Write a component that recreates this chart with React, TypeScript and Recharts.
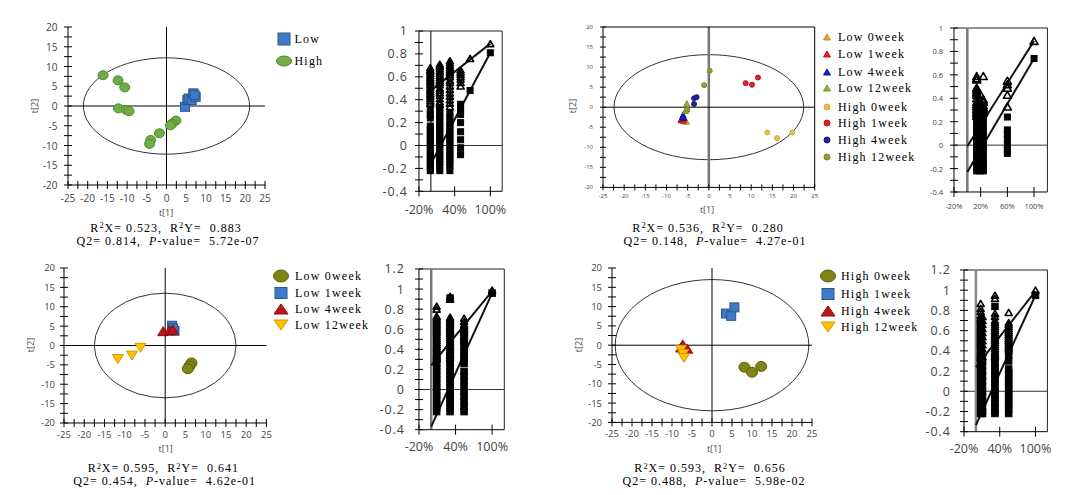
import React from 'react';
import { ScatterChart, Scatter, XAxis, YAxis, ReferenceLine, ReferenceArea } from 'recharts';

type Pt = { x: number; y: number };
type Kind = 'circle' | 'square' | 'up' | 'down';
type Geo = { l: number; r: number; t: number; b: number };

const serif = '"Liberation Serif", "Times New Roman", serif';
const sans = '"Open Sans", "DejaVu Sans", sans-serif';

// ---------- score plots ----------
const scoreXTicks = [-25, -22.5, -20, -17.5, -15, -12.5, -10, -7.5, -5, -2.5, 0, 2.5, 5, 7.5, 10, 12.5, 15, 17.5, 20, 22.5, 25];
const scoreYTicks = [-20, -17.5, -15, -12.5, -10, -7.5, -5, -2.5, 0, 2.5, 5, 7.5, 10, 12.5, 15, 17.5, 20];

// top left: Low vs High
const p1Low = [
  { x: 4.7, y: -0.2 }, { x: 5.3, y: 1.5 }, { x: 5.6, y: 1.9 }, { x: 6.4, y: 1.5 },
  { x: 6.8, y: 3.2 }, { x: 7.4, y: 2.3 }, { x: 7.1, y: 2.8 },
];
const p1High = [
  { x: -16.1, y: 7.8 }, { x: -12.3, y: 6.5 }, { x: -10.6, y: 4.7 }, { x: -12.2, y: -0.6 },
  { x: -10.2, y: -1.0 }, { x: -9.5, y: -1.3 }, { x: 2.4, y: -3.7 }, { x: 1.4, y: -4.5 },
  { x: 1.0, y: -4.9 }, { x: -1.8, y: -6.9 }, { x: -4.0, y: -8.6 }, { x: -4.3, y: -9.6 },
];
const p1Ellipse = [21.1, 12.2];

// top right: all groups
const p2Low0 = [{ x: -5.7, y: -3.4 }, { x: -5.3, y: -3.5 }, { x: -6.0, y: -3.3 }];
const p2Low1 = [{ x: -6.6, y: -3.1 }, { x: -6.3, y: -3.0 }, { x: -6.0, y: -3.2 }];
const p2Low4 = [{ x: -6.1, y: -1.9 }, { x: -5.9, y: -2.6 }, { x: -6.2, y: -2.4 }];
const p2Low12 = [{ x: -5.2, y: 0.9 }, { x: -5.3, y: -0.4 }, { x: -5.5, y: -0.8 }];
const p2High0 = [{ x: 13.8, y: -6.3 }, { x: 16.1, y: -7.7 }, { x: 19.7, y: -6.3 }];
const p2High1 = [{ x: 8.7, y: 6.0 }, { x: 10.2, y: 5.6 }, { x: 11.6, y: 7.4 }];
const p2High4 = [{ x: -3.5, y: 2.2 }, { x: -2.9, y: 2.5 }, { x: -3.5, y: 0.8 }];
const p2High12 = [{ x: 0.2, y: 9.1 }, { x: -1.1, y: 5.5 }, { x: -5.1, y: -0.6 }];
const p2Ellipse = [22.4, 13.1];

// bottom left: Low over time
const p3Low0 = [{ x: 6.5, y: -4.5 }, { x: 6.0, y: -5.3 }, { x: 5.6, y: -6.0 }];
const p3Low1 = [{ x: 1.7, y: 5.1 }, { x: 2.3, y: 3.8 }, { x: 1.9, y: 4.4 }];
const p3Low4 = [{ x: -0.5, y: 3.7 }, { x: 1.1, y: 3.9 }, { x: 1.9, y: 4.1 }];
const p3Low12 = [{ x: -11.7, y: -3.5 }, { x: -8.2, y: -2.6 }, { x: -6.1, y: -0.6 }];
const p3Ellipse = [17.5, 13.5];

// bottom right: High over time
const p4High0 = [{ x: 8.1, y: -5.7 }, { x: 10.0, y: -7.0 }, { x: 12.3, y: -5.5 }];
const p4High1 = [{ x: 3.5, y: 8.2 }, { x: 4.8, y: 7.6 }, { x: 5.6, y: 9.8 }];
const p4High4 = [{ x: -7.3, y: 0.2 }, { x: -6.2, y: -0.9 }, { x: -7.7, y: -0.6 }];
const p4High12 = [{ x: -7.8, y: -1.2 }, { x: -7.2, y: -2.3 }, { x: -7.0, y: -3.3 }];
const p4Ellipse = [24.2, 17.0];

const statR2X = ['0.523', '0.536', '0.595', '0.593'];
const statR2Y = ['0.883', '0.280', '0.641', '0.656'];
const statQ2 = ['0.814', '0.148', '0.454', '0.488'];
const statP = ['5.72e-07', '4.27e-01', '4.62e-01', '5.98e-02'];

// ---------- permutation plots ----------
const permY14 = [-0.4, -0.3, -0.2, -0.1, 0, 0.1, 0.2, 0.3, 0.4, 0.5, 0.6, 0.7, 0.8, 0.9, 1];
const permY16 = [-0.4, -0.3, -0.2, -0.1, 0, 0.1, 0.2, 0.3, 0.4, 0.5, 0.6, 0.7, 0.8, 0.9, 1, 1.1, 1.2];
const permXTicks3 = [-20, 40, 100];
const permXTicks4 = [-20, 20, 60, 100];
const fitX = [0, 100];

const p1PermX = [-1, 15, 32, 50, 66, 100];
const p1PermR2 = [
  [0.68, 0.66, 0.65, 0.63, 0.61, 0.59, 0.57, 0.55, 0.53, 0.51, 0.49, 0.47, 0.45, 0.43, 0.41, 0.39, 0.37],
  [0.71, 0.69, 0.67, 0.65, 0.63, 0.61, 0.59, 0.57, 0.55, 0.53, 0.5, 0.48, 0.46, 0.44, 0.41, 0.38, 0.36],
  [0.74, 0.72, 0.7, 0.68, 0.66, 0.64, 0.62, 0.6, 0.57, 0.55, 0.52, 0.49, 0.46, 0.43, 0.4, 0.37, 0.34],
  [0.66, 0.64, 0.62, 0.6, 0.58, 0.55, 0.52],
  [0.76],
  [0.89],
];
const p1PermQ2 = [
  [0.31, 0.27, 0.24, 0.17, 0.14, 0.11, 0.08, 0.05, 0.02, -0.01, -0.04, -0.07, -0.1, -0.13, -0.16, -0.19, -0.22],
  [0.33, 0.3, 0.27, 0.24, 0.21, 0.18, 0.15, 0.12, 0.09, 0.06, 0.03, 0, -0.03, -0.06, -0.09, -0.12, -0.15, -0.18, -0.22],
  [0.28, 0.25, 0.21, 0.18, 0.15, 0.12, 0.09, 0.06, 0.03, 0, -0.03, -0.06, -0.09, -0.12, -0.15, -0.18, -0.22],
  [0.36, 0.33, 0.3, 0.27, 0.2, 0.12, 0.05, -0.02, -0.08],
  [0.48],
  [0.81],
];
const p1Fit = { r2: [0.48, 0.89], q2: [-0.16, 0.81] };

const p2PermX = [14, 19, 24, 60, 100];
const p2PermR2 = [
  [0.59, 0.57, 0.56, 0.49, 0.47, 0.45, 0.43, 0.4, 0.37, 0.35, 0.33, 0.31, 0.29, 0.27, 0.25],
  [0.44, 0.38, 0.34, 0.31, 0.28, 0.25],
  [0.59, 0.39, 0.37, 0.34, 0.32, 0.3, 0.28],
  [0.55, 0.52, 0.49, 0.43, 0.33],
  [0.89],
];
const p2PermQ2 = [
  [0.24, 0.21, 0.17, 0.14, 0.11, 0.08, 0.05, 0.02, -0.01, -0.04, -0.07, -0.1, -0.13, -0.16, -0.19, -0.22],
  [0.27, 0.22, 0.17, 0.12, 0.07, 0.02, -0.03, -0.08, -0.13, -0.18, -0.22],
  [0.28, 0.24, 0.2, 0.16, 0.12, 0.08, 0.04, 0, -0.04, -0.08, -0.12, -0.16, -0.2, -0.22],
  [0.24, 0.13, 0.09, 0.05, 0, -0.04, -0.07],
  [0.74],
];
const p2Fit = { r2: [-0.01, 0.89], q2: [-0.23, 0.74] };

const p3PermX = [9, 31, 54, 100];
const p3PermR2 = [
  [0.83, 0.8, 0.73, 0.71, 0.69, 0.67, 0.65, 0.63, 0.61, 0.59, 0.57, 0.55, 0.53, 0.51, 0.49, 0.47, 0.45, 0.43, 0.41, 0.39, 0.37, 0.35, 0.33, 0.31],
  [0.93, 0.9, 0.72, 0.7, 0.68, 0.66, 0.64, 0.62, 0.6, 0.58, 0.56, 0.54, 0.52, 0.5, 0.48, 0.46, 0.44, 0.42, 0.4, 0.38, 0.36, 0.34, 0.32],
  [0.71, 0.68, 0.65, 0.63, 0.61, 0.59, 0.57, 0.55, 0.53, 0.51, 0.49],
  [0.99],
];
const p3PermQ2 = [
  [0.3, 0.26, 0.22, 0.18, 0.14, 0.1, 0.06, 0.02, -0.02, -0.06, -0.1, -0.14, -0.18, -0.22],
  [0.91, 0.3, 0.26, 0.22, 0.18, 0.14, 0.1, 0.06, 0.02, -0.02, -0.06, -0.1, -0.14, -0.18, -0.22],
  [0.46, 0.42, 0.38, 0.34, 0.3, 0.26, 0.18, 0.13, 0.08, 0.03, -0.02, -0.07, -0.12, -0.17, -0.22],
  [0.96],
];
const p3Fit = { r2: [0.24, 0.98], q2: [-0.37, 0.96] };

const p4PermX = [8, 11, 32, 55, 100];
const p4PermR2 = [
  [0.87, 0.82, 0.79, 0.75, 0.73, 0.71, 0.69, 0.67, 0.65, 0.63, 0.61, 0.59, 0.57, 0.55, 0.53, 0.51, 0.49, 0.47, 0.45, 0.43, 0.41, 0.39, 0.37, 0.35, 0.33],
  [0.74, 0.7, 0.66, 0.62, 0.58, 0.54, 0.5, 0.46, 0.42, 0.38, 0.34],
  [0.95, 0.92, 0.77, 0.74, 0.7, 0.68, 0.66, 0.64, 0.62, 0.6, 0.58, 0.56, 0.54, 0.52, 0.5, 0.48, 0.46, 0.44, 0.42, 0.4, 0.38, 0.36, 0.34],
  [0.78, 0.68, 0.66, 0.64, 0.62, 0.6, 0.58, 0.56, 0.54, 0.52, 0.5, 0.48, 0.46, 0.44, 0.42],
  [1.0],
];
const p4PermQ2 = [
  [0.32, 0.28, 0.24, 0.2, 0.16, 0.12, 0.08, 0.04, 0, -0.04, -0.08, -0.12, -0.16, -0.2, -0.22],
  [0.3, 0.25, 0.2, 0.15, 0.1, 0.05, 0, -0.05, -0.1, -0.15, -0.2, -0.22],
  [0.84, 0.32, 0.28, 0.24, 0.2, 0.16, 0.12, 0.08, 0.04, 0, -0.04, -0.08, -0.12, -0.16, -0.2, -0.22],
  [0.4, 0.36, 0.3, 0.22, 0.18, 0.14, 0.1, 0.06, 0.02, -0.02, -0.06, -0.1, -0.14, -0.18, -0.22],
  [0.95],
];
const p4Fit = { r2: [0.24, 0.99], q2: [-0.335, 0.95] };

// ---------- helpers ----------
const toPts = (xs: number[], cols: number[][]): Pt[] => xs.flatMap((x, i) => cols[i].map((y) => ({ x, y })));

const glyph = (kind: Kind, cx: number, cy: number, w: number, h: number, fill: string, stroke: string, sw = 1) => {
  if (kind === 'circle') return <ellipse cx={cx} cy={cy} rx={w / 2} ry={h / 2} fill={fill} stroke={stroke} strokeWidth={sw} />;
  if (kind === 'square') return <rect x={cx - w / 2} y={cy - h / 2} width={w} height={h} fill={fill} stroke={stroke} strokeWidth={sw} />;
  const d = kind === 'up'
    ? `M${cx},${cy - h / 2}L${cx + w / 2},${cy + h / 2}L${cx - w / 2},${cy + h / 2}Z`
    : `M${cx},${cy + h / 2}L${cx + w / 2},${cy - h / 2}L${cx - w / 2},${cy - h / 2}Z`;
  return <path d={d} fill={fill} stroke={stroke} strokeWidth={sw} strokeLinejoin="round" />;
};
const shapeOf = (kind: Kind, w: number, h: number, fill: string, stroke: string, sw = 1) => (p: any) =>
  p.cx == null ? <g /> : glyph(kind, p.cx, p.cy, w, h, fill, stroke, sw);

const ellipseShape = (p: any) => (
  <ellipse cx={p.x + p.width / 2} cy={p.y + p.height / 2} rx={Math.abs(p.width) / 2} ry={Math.abs(p.height) / 2} fill="none" stroke="#333" strokeWidth={1} />
);

type TickCfg = { gap: number; size: number; len: number; show: (v: number) => boolean; fmt: (v: number) => string; ls?: number };

const xTick = (c: TickCfg) => (p: any) => (
  <g>
    <line x1={p.x} x2={p.x} y1={p.y - c.len} y2={p.y + c.len} stroke="#000" />
    {c.show(p.payload.value) && (
      <text x={p.x} y={p.y + c.gap} textAnchor="middle" dominantBaseline="central" fontSize={c.size} fontFamily={sans} fill="#444" letterSpacing={c.ls}>
        {c.fmt(p.payload.value)}
      </text>
    )}
  </g>
);
const yTick = (c: TickCfg) => (p: any) => (
  <g>
    <line x1={p.x - c.len} x2={p.x + c.len} y1={p.y} y2={p.y} stroke="#000" />
    {c.show(p.payload.value) && (
      <text x={p.x - c.gap} y={p.y} textAnchor="end" dominantBaseline="central" fontSize={c.size} fontFamily={sans} fill="#444" letterSpacing={c.ls}>
        {c.fmt(p.payload.value)}
      </text>
    )}
  </g>
);

const YW = 50, XH = 32, MT = 14, MR = 6;

function Plot({ g, xDomain, yDomain, xTicks, yTicks, xt, yt, children }: {
  g: Geo; xDomain: [number, number]; yDomain: [number, number]; xTicks: number[]; yTicks: number[];
  xt: TickCfg; yt: TickCfg; children: React.ReactNode;
}) {
  return (
    <div style={{ position: 'absolute', left: g.l - YW, top: g.t - MT }}>
      <ScatterChart width={g.r - g.l + YW + MR} height={g.b - g.t + MT + XH} margin={{ top: MT, right: MR, bottom: 0, left: 0 }}>
        <XAxis type="number" dataKey="x" domain={xDomain} ticks={xTicks} interval={0} allowDataOverflow height={XH}
          tickSize={0} tickMargin={0} tickLine={false} axisLine={{ stroke: '#000' }} tick={xTick(xt)} />
        <YAxis type="number" dataKey="y" domain={yDomain} ticks={yTicks} interval={0} allowDataOverflow width={YW}
          tickSize={0} tickMargin={0} tickLine={false} axisLine={{ stroke: '#000' }} tick={yTick(yt)} />
        {children}
      </ScatterChart>
    </div>
  );
}

type Series = { name: string; data: Pt[]; kind: Kind; w: number; h: number; lw: number; lh: number; fill: string; stroke: string };

const five = (v: number) => v % 5 === 0;
const plain = (v: number) => String(v);

function ScorePlot({ g, series, ell, xt, yt, box, vStroke, vWidth }: {
  g: Geo; series: Series[]; ell: number[]; xt: TickCfg; yt: TickCfg; box?: boolean; vStroke: string; vWidth: number;
}) {
  return (
    <Plot g={g} xDomain={[-25, 25]} yDomain={[-20, 20]} xTicks={scoreXTicks} yTicks={scoreYTicks} xt={xt} yt={yt}>
      <ReferenceArea x1={-ell[0]} x2={ell[0]} y1={-ell[1]} y2={ell[1]} shape={ellipseShape} />
      <ReferenceLine x={0} stroke={vStroke} strokeWidth={vWidth} />
      <ReferenceLine y={0} stroke="#000" />
      {box && <ReferenceLine y={20} stroke="#000" />}
      {box && <ReferenceLine x={25} stroke="#000" />}
      {series.map((s) => (
        <Scatter key={s.name} name={s.name} data={s.data} shape={shapeOf(s.kind, s.w, s.h, s.fill, s.stroke)} isAnimationActive={false} />
      ))}
    </Plot>
  );
}

function PermPlot({ g, xs, r2, q2, fit, yTop, yTicks, xTicks, xt, yt, vStroke, vWidth, tri, sq }: {
  g: Geo; xs: number[]; r2: number[][]; q2: number[][]; fit: { r2: number[]; q2: number[] };
  yTop: number; yTicks: number[]; xTicks: number[]; xt: TickCfg; yt: TickCfg; vStroke: string; vWidth: number; tri: number; sq: number;
}) {
  return (
    <Plot g={g} xDomain={[-20, 120]} yDomain={[-0.4, yTop]} xTicks={xTicks} yTicks={yTicks} xt={xt} yt={yt}>
      <ReferenceLine y={yTop} stroke="#222" />
      <ReferenceLine x={120} stroke="#222" />
      <ReferenceLine y={0} stroke="#333" />
      <ReferenceLine x={0} stroke={vStroke} strokeWidth={vWidth} />
      <Scatter name="R2" data={toPts(xs, r2)} shape={shapeOf('up', tri, tri - 1, 'none', '#000', 1.6)} isAnimationActive={false} />
      <Scatter name="Q2" data={toPts(xs, q2)} shape={shapeOf('square', sq, sq, '#000', '#000')} isAnimationActive={false} />
      <ReferenceLine segment={[{ x: fitX[0], y: fit.r2[0] }, { x: fitX[1], y: fit.r2[1] }]} stroke="#111" strokeWidth={2} />
      <ReferenceLine segment={[{ x: fitX[0], y: fit.q2[0] }, { x: fitX[1], y: fit.q2[1] }]} stroke="#111" strokeWidth={2} />
    </Plot>
  );
}

function Txt({ x, y, size, font, children, rot, ls, left, color = '#000' }: {
  x: number; y: number; size: number; font: string; children: React.ReactNode; rot?: number; ls?: number; left?: boolean; color?: string;
}) {
  return (
    <div style={{
      position: 'absolute', left: x, top: y, transform: `translate(${left ? '0' : '-50%'}, -50%)${rot ? ` rotate(${rot}deg)` : ''}`,
      fontFamily: font, fontSize: size, lineHeight: 1, whiteSpace: 'pre', letterSpacing: ls, color,
    }}>
      {children}
    </div>
  );
}

const sup = (t: string) => <span style={{ fontSize: '0.7em', position: 'relative', top: '-0.45em' }}>{t}</span>;

function Stats({ i, x1, x2, y }: { i: number; x1: number; x2: number; y: number }) {
  return (
    <>
      <Txt x={x1} y={y} size={12} font={serif} ls={1}>R{sup('2')}X= {statR2X[i]},  R{sup('2')}Y=  {statR2Y[i]}</Txt>
      <Txt x={x2} y={y + 12.5} size={12} font={serif} ls={1}>Q2= {statQ2[i]},  <i>P</i>-value=  {statP[i]}</Txt>
    </>
  );
}

function KeyBox({ series, mx, tx, ys }: { series: Series[]; mx: number; tx: number; ys: number[] }) {
  return (
    <>
      {series.map((s, i) => (
        <React.Fragment key={s.name}>
          <svg style={{ position: 'absolute', left: mx - 10, top: ys[i] - 10 }} width={20} height={20}>
            {glyph(s.kind, 10, 10, s.lw, s.lh, s.fill, s.stroke)}
          </svg>
          <Txt x={tx} y={ys[i]} size={12} font={serif} ls={1.2} left>{s.name}</Txt>
        </React.Fragment>
      ))}
    </>
  );
}

// ---------- series styles ----------
const blue = { fill: '#3f7ac6', stroke: '#2a5896' };
const green = { fill: '#71ad47', stroke: '#4f8a2e' };
const olive = { fill: '#7f8515', stroke: '#5b5f0c' };
const red = { fill: '#c0141a', stroke: '#8a0a0a' };
const yellow = { fill: '#ffc000', stroke: '#d29a00' };

const s1: Series[] = [
  { name: 'Low', data: p1Low, kind: 'square', w: 9, h: 9, lw: 12, lh: 12, ...blue },
  { name: 'High', data: p1High, kind: 'circle', w: 10, h: 9, lw: 15, lh: 10, ...green },
];
const tinyTri = { kind: 'up' as Kind, w: 6, h: 6, lw: 7, lh: 6 };
const tinyDot = { kind: 'circle' as Kind, w: 5, h: 5, lw: 6, lh: 6 };
const s2: Series[] = [
  { name: 'Low 0week', data: p2Low0, ...tinyTri, fill: '#e3a33a', stroke: '#c98a20' },
  { name: 'Low 1week', data: p2Low1, ...tinyTri, fill: '#e4202a', stroke: '#c01018' },
  { name: 'Low 4week', data: p2Low4, ...tinyTri, fill: '#1c1ccc', stroke: '#1010a0' },
  { name: 'Low 12week', data: p2Low12, ...tinyTri, fill: '#8cb24a', stroke: '#6e9434' },
  { name: 'High 0week', data: p2High0, ...tinyDot, fill: '#e6c24e', stroke: '#cfa838' },
  { name: 'High 1week', data: p2High1, ...tinyDot, fill: '#d8262a', stroke: '#b01418' },
  { name: 'High 4week', data: p2High4, ...tinyDot, fill: '#24249e', stroke: '#181880' },
  { name: 'High 12week', data: p2High12, ...tinyDot, fill: '#9c9a3c', stroke: '#7e7c28' },
];
const s3: Series[] = [
  { name: 'Low 0week', data: p3Low0, kind: 'circle', w: 11, h: 10, lw: 15, lh: 12, ...olive },
  { name: 'Low 1week', data: p3Low1, kind: 'square', w: 9, h: 9, lw: 12, lh: 11, ...blue },
  { name: 'Low 4week', data: p3Low4, kind: 'up', w: 11, h: 9, lw: 14, lh: 10, ...red },
  { name: 'Low 12week', data: p3Low12, kind: 'down', w: 11, h: 9, lw: 14, lh: 10, ...yellow },
];
const s4: Series[] = [
  { name: 'High 0week', data: p4High0, kind: 'circle', w: 11, h: 10, lw: 15, lh: 12, ...olive },
  { name: 'High 1week', data: p4High1, kind: 'square', w: 9, h: 9, lw: 12, lh: 11, ...blue },
  { name: 'High 4week', data: p4High4, kind: 'up', w: 11, h: 9, lw: 14, lh: 10, ...red },
  { name: 'High 12week', data: p4High12, kind: 'down', w: 11, h: 9, lw: 14, lh: 10, ...yellow },
];

const sc = (gap: number, size: number, len = 4): TickCfg => ({ gap, size, len, show: five, fmt: plain });
const pyt = (gap: number, size: number, ls = 0): TickCfg => ({ gap, size, len: 4, show: (v) => Math.round(v * 10) % 2 === 0, fmt: plain, ls });
const pxt = (gap: number, size: number): TickCfg => ({ gap, size, len: 5, show: () => true, fmt: (v) => `${v}%` });

export default function App() {
  return (
    <div style={{ position: 'absolute', left: 0, top: 0, width: 1081, height: 495, background: '#fff', overflow: 'hidden' }}>
      {/* top left */}
      <ScorePlot g={{ l: 68, r: 265, t: 27, b: 185 }} series={s1} ell={p1Ellipse} xt={sc(12.7, 10)} yt={sc(10.5, 10)} vStroke="#000" vWidth={1} />
      <Txt x={166} y={212} size={9} font={sans} color="#444">t[1]</Txt>
      <Txt x={34} y={106} size={9} font={sans} color="#444" rot={-90}>t[2]</Txt>
      <KeyBox series={s1} mx={284} tx={294.5} ys={[38.5, 60.5]} />
      <Stats i={0} x1={166} x2={168} y={228} />
      <PermPlot g={{ l: 419.3, r: 502.5, t: 30.7, b: 191 }} xs={p1PermX} r2={p1PermR2} q2={p1PermQ2} fit={p1Fit} yTop={1}
        yTicks={permY14} xTicks={permXTicks3} xt={pxt(18, 12.5)} yt={pyt(11, 12.5, 1)} vStroke="#000" vWidth={1} tri={7} sq={6} />

      {/* top right */}
      <ScorePlot g={{ l: 603.3, r: 815, t: 27.3, b: 187.7 }} series={s2} ell={p2Ellipse} xt={sc(9, 6, 3)} yt={sc(10, 6, 3)} box vStroke="#777" vWidth={2.5} />
      <Txt x={707} y={209} size={9} font={sans} color="#444">t[1]</Txt>
      <Txt x={572} y={106} size={9} font={sans} color="#444" rot={-90}>t[2]</Txt>
      <KeyBox series={s2} mx={827} tx={838} ys={[36.7, 54, 71.7, 88.3, 106.7, 123.3, 140, 157.3]} />
      <Stats i={1} x1={708} x2={715} y={228} />
      <PermPlot g={{ l: 954.3, r: 1047.7, t: 28.3, b: 192.3 }} xs={p2PermX} r2={p2PermR2} q2={p2PermQ2} fit={p2Fit} yTop={1}
        yTicks={permY14} xTicks={permXTicks4} xt={pxt(13.7, 7.5)} yt={pyt(11, 7.5)} vStroke="#777" vWidth={2.5} tri={8} sq={6} />

      {/* bottom left */}
      <ScorePlot g={{ l: 64.3, r: 266.7, t: 268.3, b: 423.3 }} series={s3} ell={p3Ellipse} xt={sc(11.7, 9.5)} yt={sc(9, 9.5)} vStroke="#000" vWidth={1} />
      <Txt x={165.7} y={448.3} size={9} font={sans} color="#444">t[1]</Txt>
      <Txt x={30} y={345} size={9} font={sans} color="#444" rot={-90}>t[2]</Txt>
      <KeyBox series={s3} mx={281} tx={295} ys={[275.5, 292.5, 308.5, 325.3]} />
      <Stats i={2} x1={163.3} x2={164.7} y={468.3} />
      <PermPlot g={{ l: 419, r: 504.3, t: 269.3, b: 430 }} xs={p3PermX} r2={p3PermR2} q2={p3PermQ2} fit={p3Fit} yTop={1.2}
        yTicks={permY16} xTicks={permXTicks3} xt={pxt(16.7, 12.5)} yt={pyt(14, 12.5, 1)} vStroke="#777" vWidth={2.5} tri={7} sq={6.5} />

      {/* bottom right */}
      <ScorePlot g={{ l: 611.7, r: 811.7, t: 268.3, b: 422.7 }} series={s4} ell={p4Ellipse} xt={sc(11.3, 9.5)} yt={sc(10, 9.5)} vStroke="#000" vWidth={1} />
      <Txt x={714} y={448.3} size={9} font={sans} color="#444">t[1]</Txt>
      <Txt x={578.3} y={345} size={9} font={sans} color="#444" rot={-90}>t[2]</Txt>
      <KeyBox series={s4} mx={828} tx={841} ys={[276, 294, 311, 327]} />
      <Stats i={3} x1={710} x2={714} y={468.3} />
      <PermPlot g={{ l: 964.3, r: 1047.7, t: 270, b: 431.7 }} xs={p4PermX} r2={p4PermR2} q2={p4PermQ2} fit={p4Fit} yTop={1.2}
        yTicks={permY16} xTicks={permXTicks3} xt={pxt(16.6, 12.5)} yt={pyt(13, 12.5, 1)} vStroke="#888" vWidth={2.5} tri={7} sq={6.5} />
    </div>
  );
}
